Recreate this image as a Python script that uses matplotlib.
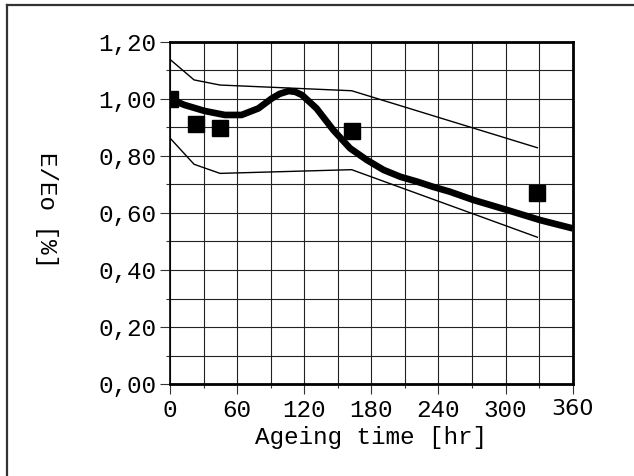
import numpy as np
from matplotlib import pyplot as plt
from matplotlib.lines import Line2D

# measured points
t_meas = [0, 23, 45, 163, 328]
e_meas = [1.000, 0.912, 0.899, 0.888, 0.669]

# scatter band
t_band = [0, 21.5, 44.7, 162.4, 328.4]
e_upper = [1.139, 1.067, 1.049, 1.029, 0.829]
e_lower = [0.863, 0.771, 0.739, 0.752, 0.515]

# model curve
t_fit = [0, 13, 31, 49, 64, 79, 91, 98, 106, 112, 118, 131, 146, 161, 176,
         191, 206, 221, 235, 250, 271, 301, 331, 360]
e_fit = [1.000, 0.979, 0.958, 0.944, 0.944, 0.967, 1.002, 1.018, 1.028, 1.025,
         1.014, 0.967, 0.891, 0.827, 0.786, 0.751, 0.727, 0.710, 0.692, 0.675,
         0.646, 0.611, 0.575, 0.546]

xticks = [0, 60, 120, 180, 240, 300, 360]
yticks = [0.0, 0.2, 0.4, 0.6, 0.8, 1.0, 1.2]
ylabels = ['0,00', '0,20', '0,40', '0,60', '0,80', '1,00', '1,20']

plt.rcParams['font.family'] = ['Liberation Mono', 'DejaVu Sans Mono']

fig = plt.figure(figsize=(6.34, 4.76), dpi=100)
ax = fig.add_axes([170/634, 92/476, 402.7/634, 342/476])

ax.plot(t_band, e_upper, color='black', lw=1.0)
ax.plot(t_band, e_lower, color='black', lw=1.0)
ax.plot(t_fit, e_fit, color='black', lw=4.8, solid_joinstyle='round', solid_capstyle='butt')
ax.plot(t_meas, e_meas, 's', color='black', ms=11, zorder=5)

ax.set_xlim(0, 360)
ax.set_ylim(0, 1.2)
ax.set_xticks(xticks)
ax.set_xticklabels([str(x) for x in xticks])
ax.set_xticks(np.arange(30, 360, 60), minor=True)
ax.set_yticks(yticks)
ax.set_yticklabels(ylabels)
ax.set_yticks(np.arange(0.1, 1.2, 0.2), minor=True)
ax.grid(True, which='both', color='#222222', lw=0.8)

ax.tick_params(axis='both', which='major', labelsize=17.5, direction='out', length=7, width=0.8, color='#333333')
ax.tick_params(axis='y', which='major', pad=3)
ax.tick_params(axis='both', which='minor', direction='out', length=3, width=0.8, color='#333333')

for s in ['top', 'right', 'bottom']:
    ax.spines[s].set_linewidth(2)
ax.spines['left'].set_linewidth(1.2)

# the last label uses a different typeface in the original
ax.get_xticklabels()[-1].set_fontfamily('DejaVu Sans')
ax.get_xticklabels()[-1].set_fontsize(16)

ax.set_xlabel('Ageing time [hr]', fontsize=17.5, labelpad=3)
ax.set_ylabel('E/Eo [%]', fontsize=17.5, rotation=270)
ax.yaxis.set_label_coords(-0.335, 0.51)

# outer frame (only top and left visible)
fig.add_artist(Line2D([7/634, 1.0], [1 - 5/476, 1 - 5/476], color='#333333', lw=1.6))
fig.add_artist(Line2D([7/634, 7/634], [0.0, 1 - 5/476], color='#333333', lw=1.6))

plt.savefig('out.png', dpi=100)
